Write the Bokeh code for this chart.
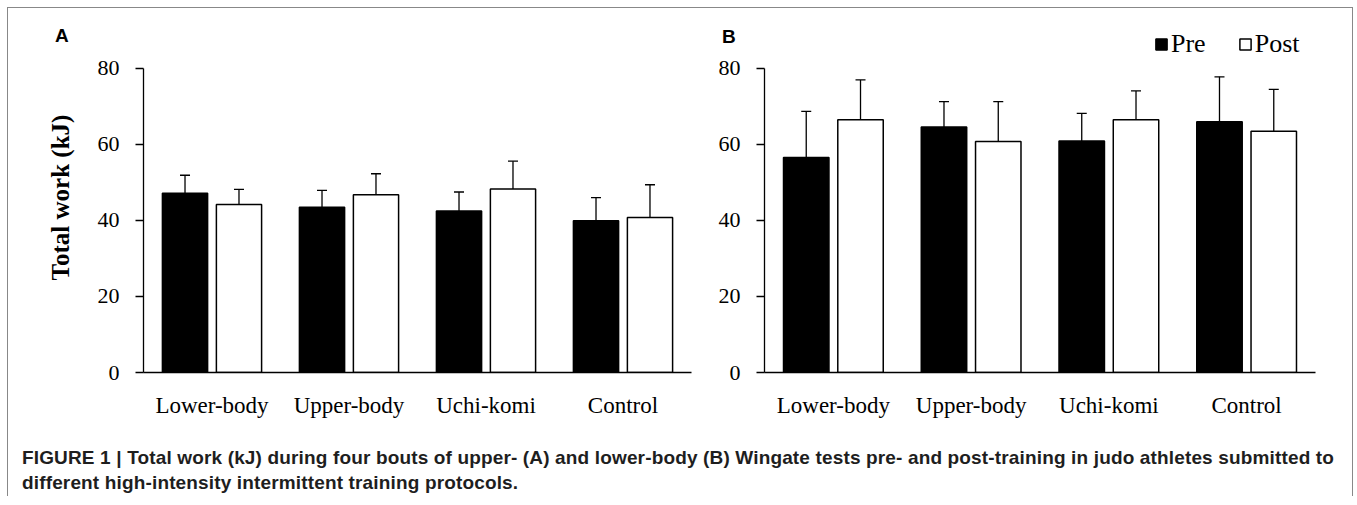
from bokeh.plotting import figure
from bokeh.models import (FactorRange, Range1d, Whisker, TeeHead, ColumnDataSource,
                          Legend, LegendItem, Div)
from bokeh.transform import dodge
from bokeh.layouts import row, column
from bokeh.embed import file_html
from bokeh.resources import INLINE

categories = ["Lower-body", "Upper-body", "Uchi-komi", "Control"]
y_ticks = [0, 20, 40, 60, 80]

# Panel A (upper-body Wingate)
a_pre = [47.2, 43.5, 42.5, 39.9]
a_pre_sd = [4.7, 4.4, 5.0, 6.1]
a_post = [44.2, 46.8, 48.3, 40.8]
a_post_sd = [4.0, 5.5, 7.3, 8.6]

# Panel B (lower-body Wingate)
b_pre = [56.6, 64.6, 60.9, 66.0]
b_pre_sd = [12.1, 6.7, 7.3, 11.8]
b_post = [66.5, 60.8, 66.5, 63.5]
b_post_sd = [10.5, 10.5, 7.6, 11.0]

caption = ("FIGURE 1 | Total work (kJ) during four bouts of upper- (A) and lower-body (B) Wingate tests "
           "pre- and post-training in judo athletes submitted to<br>different high-intensity intermittent "
           "training protocols.")

SERIF = "Liberation Serif"
OFF = 0.197
BW = 0.33


def make_panel(pre, pre_sd, post, post_sd, width, bl, br, ylabel, legend):
    src = ColumnDataSource(dict(
        cat=categories, pre=pre, post=post,
        pre_hi=[m + s for m, s in zip(pre, pre_sd)],
        post_hi=[m + s for m, s in zip(post, post_sd)],
    ))
    p = figure(x_range=FactorRange(*categories, range_padding=0), y_range=Range1d(0, 92.1),
               width=width, height=420, output_backend="svg", toolbar_location=None,
               min_border_left=bl, min_border_right=br, min_border_top=14, min_border_bottom=56)
    p.outline_line_color = None
    p.grid.visible = False
    p.background_fill_color = "white"
    p.border_fill_color = "white"

    r_pre = p.vbar(x=dodge("cat", -OFF, range=p.x_range), top="pre", width=BW, source=src,
                   fill_color="black", line_color="black", line_width=1.5)
    r_post = p.vbar(x=dodge("cat", OFF, range=p.x_range), top="post", width=BW, source=src,
                    fill_color="white", line_color="black", line_width=1.5)

    for off, lo, hi in [(-OFF, "pre", "pre_hi"), (OFF, "post", "post_hi")]:
        w = Whisker(source=src, base=dodge("cat", off, range=p.x_range), lower=lo, upper=hi,
                    line_color="black", line_width=1.3, lower_head=None,
                    upper_head=TeeHead(size=10, line_color="black", line_width=1.3))
        p.add_layout(w)

    p.yaxis.ticker = y_ticks
    p.yaxis.bounds = (0, 80)
    p.yaxis.minor_tick_line_color = None
    p.yaxis.major_tick_in = 0
    p.yaxis.major_tick_out = 8
    p.yaxis.major_label_text_font = SERIF
    p.yaxis.major_label_text_font_size = "22px"
    p.yaxis.major_label_text_color = "black"
    p.yaxis.major_label_standoff = 16
    p.yaxis.axis_line_color = "black"
    p.yaxis.axis_line_width = 1.3
    p.yaxis.major_tick_line_color = "black"
    p.yaxis.major_tick_line_width = 1.3
    if ylabel:
        p.yaxis.axis_label = ylabel
        p.yaxis.axis_label_text_font = SERIF
        p.yaxis.axis_label_text_font_size = "25px"
        p.yaxis.axis_label_text_font_style = "bold"
        p.yaxis.axis_label_text_color = "black"
        p.yaxis.axis_label_standoff = 21

    p.xaxis.major_tick_line_color = None
    p.xaxis.minor_tick_line_color = None
    p.xaxis.axis_line_color = "black"
    p.xaxis.axis_line_width = 1.5
    p.xaxis.major_label_text_font = SERIF
    p.xaxis.major_label_text_font_size = "23px"
    p.xaxis.major_label_text_color = "black"
    p.xaxis.major_label_standoff = 14

    if legend:
        lg = Legend(items=[LegendItem(label="Pre", renderers=[r_pre]),
                           LegendItem(label="Post", renderers=[r_post])],
                    orientation="horizontal", location=(390, 313),
                    glyph_width=14, glyph_height=14, spacing=32, label_standoff=3,
                    padding=0, margin=0, border_line_color=None, background_fill_alpha=0,
                    label_text_font=SERIF, label_text_font_size="26px", label_text_color="black")
        p.add_layout(lg)
    return p


pa = make_panel(a_pre, a_pre_sd, a_post, a_post_sd, 692, 135, 9, "Total work (kJ)", False)
pb = make_panel(b_pre, b_pre_sd, b_post, b_post_sd, 651, 64, 36, None, True)


def panel_letter(text, left, top):
    return Div(text=text, width=20, height=22,
               styles={"position": "absolute", "left": f"{left}px", "top": f"{top}px",
                       "z-index": "10", "font-family": "Liberation Sans", "font-weight": "bold",
                       "font-size": "19px", "line-height": "22px", "color": "black"})


letter_a = panel_letter("A", 42, 12)
letter_b = panel_letter("B", 709, 13)

cap = Div(text=caption, width=1334, height=58,
          styles={"font-family": "Liberation Sans", "font-weight": "bold", "font-size": "19px",
                  "letter-spacing": "0.15px", "line-height": "25px", "color": "#1e1e1e",
                  "padding-left": "9px", "padding-top": "12px", "white-space": "nowrap"})

layout = column(letter_a, letter_b, row(pa, pb), cap,
                styles={"position": "relative", "margin": "7px 0 0 7px",
                        "border-top": "1px solid #888", "border-left": "1px solid #888",
                        "border-right": "1px solid #888"})

open("out.html", "w").write(file_html(layout, INLINE))
